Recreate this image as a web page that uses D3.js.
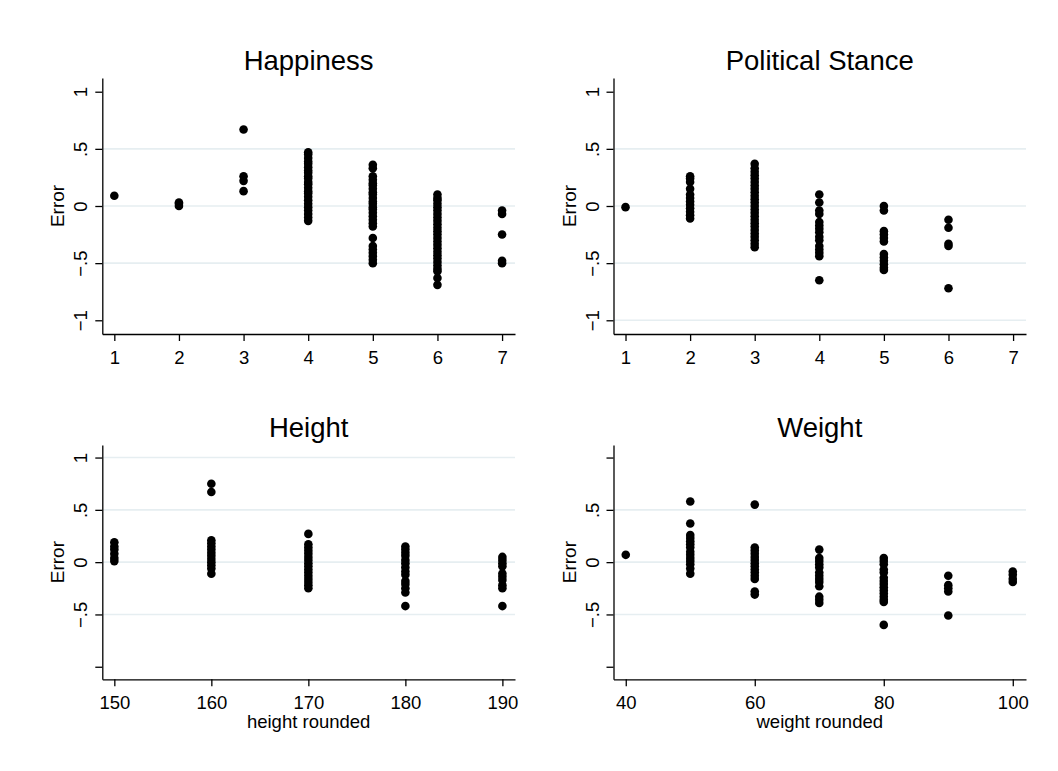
<!DOCTYPE html>
<html>
<head>
<meta charset="utf-8">
<script src="https://cdn.jsdelivr.net/npm/d3@7"></script>
<style>
  body { margin: 0; background: #fff; }
  svg { font-family: "Liberation Sans", Arial, sans-serif; }
</style>
</head>
<body>
<svg id="chart" width="1058" height="771"></svg>
<script>
// Happiness (1-7)
var happinessCats = [1, 2, 3, 4, 5, 6, 7];
var happinessErr = [
	[0.09],
	[0.00, 0.02, 0.03],
	[0.67, 0.26, 0.22, 0.13],
	[0.47, 0.45, 0.42, 0.39, 0.37, 0.34, 0.31, 0.29, 0.26, 0.24, 0.21, 0.19, 0.16, 0.13, 0.11, 0.08, 0.05, 0.02, -0.01, -0.04, -0.07, -0.10, -0.13],
	[0.36, 0.33, 0.26, 0.23, 0.20, 0.18, 0.15, 0.12, 0.10, 0.07, 0.04, 0.02, -0.01, -0.03, -0.06, -0.09, -0.12, -0.15, -0.18, -0.28, -0.35, -0.38, -0.41, -0.44, -0.47, -0.50],
	[0.10, 0.07, 0.05, 0.02, -0.01, -0.04, -0.07, -0.10, -0.13, -0.16, -0.19, -0.22, -0.25, -0.28, -0.31, -0.34, -0.37, -0.40, -0.43, -0.46, -0.49, -0.52, -0.55, -0.57, -0.63, -0.69],
	[-0.04, -0.07, -0.25, -0.48, -0.50]
];

// Political stance (1-7)
var politicalCats = [1, 2, 3, 4, 5, 6];
var politicalErr = [
	[-0.01],
	[0.26, 0.24, 0.21, 0.15, 0.10, 0.07, 0.04, 0.01, -0.02, -0.05, -0.08, -0.11],
	[0.37, 0.33, 0.30, 0.27, 0.24, 0.21, 0.18, 0.15, 0.12, 0.09, 0.06, 0.03, 0.00, -0.03, -0.06, -0.09, -0.12, -0.15, -0.18, -0.21, -0.24, -0.27, -0.30, -0.33, -0.36],
	[0.10, 0.03, -0.04, -0.07, -0.14, -0.17, -0.20, -0.23, -0.27, -0.30, -0.35, -0.38, -0.41, -0.44, -0.65],
	[0.00, -0.04, -0.22, -0.25, -0.28, -0.31, -0.42, -0.45, -0.48, -0.51, -0.54, -0.56],
	[-0.12, -0.19, -0.33, -0.35, -0.72]
];

// Height rounded
var heightCats = [150, 160, 170, 180, 190];
var heightErr = [
	[0.19, 0.15, 0.12, 0.08, 0.04, 0.01],
	[0.75, 0.67, 0.21, 0.18, 0.15, 0.12, 0.09, 0.06, 0.03, 0.00, -0.03, -0.06, -0.11],
	[0.27, 0.17, 0.14, 0.11, 0.08, 0.05, 0.02, -0.01, -0.04, -0.07, -0.10, -0.13, -0.16, -0.19, -0.22, -0.25],
	[0.15, 0.12, 0.09, 0.06, 0.02, -0.01, -0.05, -0.09, -0.12, -0.18, -0.21, -0.25, -0.29, -0.42],
	[0.05, 0.02, -0.01, -0.04, -0.11, -0.14, -0.17, -0.22, -0.25, -0.42]
];

// Weight rounded
var weightCats = [40, 50, 60, 70, 80, 90, 100];
var weightErr = [
	[0.07],
	[0.58, 0.37, 0.26, 0.23, 0.20, 0.17, 0.14, 0.10, 0.07, 0.04, 0.01, -0.02, -0.06, -0.11],
	[0.55, 0.14, 0.11, 0.08, 0.05, 0.02, -0.01, -0.04, -0.07, -0.10, -0.13, -0.16, -0.28, -0.31],
	[0.12, 0.04, 0.01, -0.02, -0.05, -0.10, -0.13, -0.16, -0.19, -0.23, -0.33, -0.36, -0.39],
	[0.04, 0.01, -0.02, -0.07, -0.10, -0.15, -0.18, -0.21, -0.24, -0.27, -0.30, -0.33, -0.36, -0.38, -0.60],
	[-0.13, -0.22, -0.25, -0.28, -0.51],
	[-0.09, -0.12, -0.16, -0.19]
];

// ticks
var pointTicks = [1, 2, 3, 4, 5, 6, 7];
var heightTicks = [150, 160, 170, 180, 190];
var weightTicks = [40, 60, 80, 100];
var errTicks = [-1, -0.5, 0, 0.5, 1];

var svg = d3.select("#chart");

function fmtErr(d) {
	// estilo Stata: ".5" / "-.5"
	return d3.format("")(d).replace("0.", ".");
}

function drawPanel(opt) {
	var g = svg.append("g");

	var x = d3.scaleLinear().domain(opt.xDomain).range([opt.left, opt.right]);
	var y = d3.scaleLinear().domain([-1.12, 1.12]).range([opt.bottom, opt.top]);

	// grade
	g.selectAll("line.grid")
		.data(opt.grid)
		.enter()
		.append("line")
		.attr("class", "grid")
		.attr("x1", opt.left + 1)
		.attr("x2", opt.right)
		.attr("y1", function(d) { return y(d); })
		.attr("y2", function(d) { return y(d); })
		.style("stroke", "#e6eef1")
		.style("stroke-width", 1.6);

	// eixo x
	var xAxis = g.append("g")
		.attr("transform", "translate(0," + opt.bottom + ")")
		.call(d3.axisBottom(x).tickValues(opt.xTicks).tickSizeInner(7).tickSizeOuter(0).tickFormat(d3.format("d")));
	xAxis.selectAll("text")
		.attr("y", 30)
		.attr("dy", 0)
		.style("font-size", "18.5px")
		.style("fill", "#000");

	// eixo y
	var yAxis = g.append("g")
		.attr("transform", "translate(" + opt.left + ",0)")
		.call(d3.axisLeft(y).tickValues(errTicks).tickSizeInner(7).tickSizeOuter(0)
			.tickFormat(function(d) { return opt.yLabels.indexOf(d) >= 0 ? fmtErr(d) : ""; }));
	yAxis.selectAll("text")
		.attr("transform", "rotate(-90)")
		.attr("text-anchor", "middle")
		.attr("x", 0)
		.attr("y", -15)
		.attr("dy", 0)
		.style("font-size", "18.5px")
		.style("fill", "#000");

	g.selectAll(".domain, .tick line")
		.style("stroke", "#000")
		.style("stroke-width", 1.3);

	// título
	g.append("text")
		.attr("x", (opt.left + opt.right) / 2)
		.attr("y", opt.top - 8)
		.attr("text-anchor", "middle")
		.style("font-size", "27.5px")
		.text(opt.title);

	// rótulo y
	g.append("text")
		.attr("transform", "translate(" + (opt.left - 38) + "," + ((opt.top + opt.bottom) / 2) + ") rotate(-90)")
		.attr("text-anchor", "middle")
		.style("font-size", "19px")
		.text("Error");

	// rótulo x
	if (opt.xTitle) {
		g.append("text")
			.attr("x", (opt.left + opt.right) / 2)
			.attr("y", opt.bottom + 49)
			.attr("text-anchor", "middle")
			.style("font-size", "18.5px")
			.text(opt.xTitle);
	}

	// pontos
	var pts = [];
	opt.cats.forEach(function(c, i) {
		opt.errs[i].forEach(function(v) { pts.push({ x: c, y: v }); });
	});
	g.selectAll("circle")
		.data(pts)
		.enter()
		.append("circle")
		.attr("cx", function(d) { return x(d.x); })
		.attr("cy", function(d) { return y(d.y); })
		.attr("r", 4.3)
		.style("fill", "#000");
}

drawPanel({ title: "Happiness", cats: happinessCats, errs: happinessErr, xTicks: pointTicks,
	xDomain: [0.814, 7.2], left: 102.3, right: 515, top: 78, bottom: 334,
	yLabels: errTicks, grid: [-0.5, 0, 0.5] });

drawPanel({ title: "Political Stance", cats: politicalCats, errs: politicalErr, xTicks: pointTicks,
	xDomain: [0.814, 7.2], left: 613.5, right: 1026, top: 78, bottom: 334,
	yLabels: errTicks, grid: [-1, -0.5, 0, 0.5] });

drawPanel({ title: "Height", cats: heightCats, errs: heightErr, xTicks: heightTicks,
	xDomain: [148.76, 191.3], left: 102.3, right: 515, top: 445, bottom: 679.3,
	yLabels: [-0.5, 0, 0.5, 1], grid: [-0.5, 0, 0.5, 1], xTitle: "height rounded" });

drawPanel({ title: "Weight", cats: weightCats, errs: weightErr, xTicks: weightTicks,
	xDomain: [38.1, 102.05], left: 613.5, right: 1026, top: 445, bottom: 679.3,
	yLabels: [-0.5, 0, 0.5], grid: [-0.5, 0, 0.5], xTitle: "weight rounded" });
</script>
</body>
</html>
